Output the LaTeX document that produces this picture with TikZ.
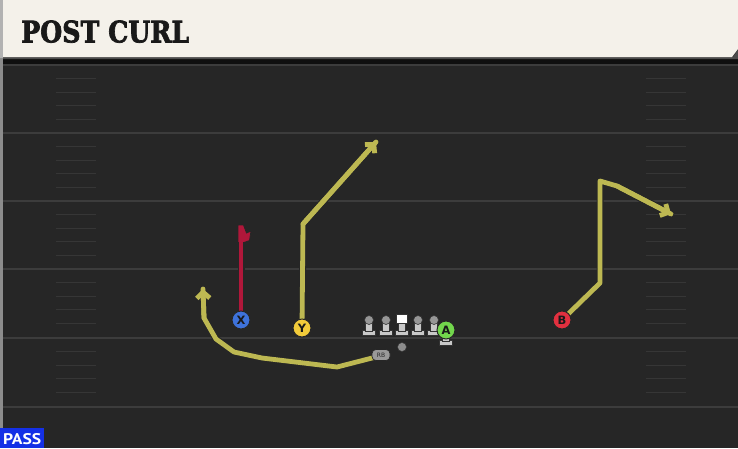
\documentclass[tikz,border=0pt]{standalone}
\usepackage{fontspec}
\setmainfont{DejaVu Sans}
\newfontfamily\titlefont[FakeBold=2.5]{DejaVu Serif}
\newfontfamily\passfont{PT Sans}
\usetikzlibrary{arrows.meta}
\definecolor{fieldbg}{HTML}{262626}
\definecolor{yardline}{HTML}{3C3C3C}
\definecolor{hashc}{HTML}{363636}
\definecolor{cream}{HTML}{F4F1EA}
\definecolor{routey}{HTML}{BDB852}
\definecolor{router}{HTML}{B0173A}
\definecolor{plblue}{HTML}{3E72DA}
\definecolor{plyellow}{HTML}{F2CB3A}
\definecolor{plgreen}{HTML}{72D64C}
\definecolor{plred}{HTML}{E2303F}
\definecolor{linem}{HTML}{C8C8C8}
\definecolor{passblue}{HTML}{1430E6}
\tikzset{
  player/.style={circle,draw=black!85,line width=1pt,minimum size=18pt,inner sep=0pt,
    font=\bfseries\fontsize{11.5}{11.5}\selectfont,text=black!90},
  routeout/.style={line width=7pt,draw=black!85,line join=round,line cap=round},
  routein/.style={line width=4.8pt,draw=routey,line join=round,line cap=round},
  redout/.style={line width=7pt,draw=black!85,line join=round,line cap=butt},
  redin/.style={line width=4.8pt,draw=router,line join=round,line cap=butt},
  barbout/.style={line width=7pt,draw=black!85,line join=miter,line cap=round},
  barbin/.style={line width=4.8pt,draw=routey,line join=miter,line cap=round},
  tipstyle/.style={-{Straight Barb[length=6pt,width=13pt]}},
  yard/.style={draw=yardline,line width=1.6pt},
  hashm/.style={draw=hashc,line width=1.2pt},
  pics/lineman/.style={code={
    \fill[linem,draw=black!80,line width=0.6pt] (-6.5,10.5) rectangle (6.5,15);
    \fill[linem,draw=black!80,line width=0.6pt] (-3.5,2.5) rectangle (3.5,11);
    \fill[linem!75!black,draw=black!80,line width=0.6pt] (0,0) circle (4.5);
  }},
  pics/centerman/.style={code={
    \fill[linem,draw=black!80,line width=0.6pt] (-6.5,10.5) rectangle (6.5,15);
    \fill[linem,draw=black!80,line width=0.6pt] (-3.5,2.5) rectangle (3.5,11);
    \fill[white,draw=black!80,line width=0.6pt] (-5.5,-6) rectangle (5.5,3);
  }}
}
\begin{document}
\begin{tikzpicture}[x=1pt,y=-1pt]
\useasboundingbox (0,0) rectangle (738,448);
% field
\fill[fieldbg] (0,0) rectangle (738,448);
\fill[black!60!fieldbg] (0,57) rectangle (738,64);
\fill[black!45] (0,0) rectangle (3,448);
% yard lines
\foreach \yy in {65,133,201,269,338,407} \draw[yard] (3,\yy) -- (738,\yy);
% hash marks
\foreach \yy in {65,133,201,269,338} {
  \foreach \k in {1,2,3,4} {
    \draw[hashm] (56,\yy+13.6*\k) -- (96,\yy+13.6*\k);
    \draw[hashm] (646,\yy+13.6*\k) -- (686,\yy+13.6*\k);
  }
}
% header
\fill[black!70] (3,57) -- (733,57) -- (738,50) -- (738,59) -- (3,59) -- cycle;
\fill[cream] (3,0) -- (738,0) -- (738,49) -- (732,57) -- (3,57) -- cycle;
\fill[black!30] (0,0) rectangle (3,58);
\node[anchor=south west,inner sep=0pt,text=black!90] (title) at (21,43)
  {\resizebox{168pt}{22pt}{\titlefont\bfseries POST CURL}};
% PASS tag
\fill[passblue] (0,428) rectangle (44,448);
\node[anchor=south west,inner sep=0pt,text=white] (pass) at (3,445)
  {\resizebox{38pt}{11pt}{\passfont\bfseries PASS}};

% offensive line
\pic at (369,320) {lineman};
\pic at (386,320) {lineman};
\pic at (402,320) {centerman};
\pic at (418,320) {lineman};
\pic at (434,320) {lineman};
\pic at (446,330) {lineman};
% ball
\node[circle,fill=black!45,draw=black!80,line width=0.5pt,minimum size=9pt,inner sep=0pt] (ball) at (402,347) {};

% route coordinates
\coordinate (y1) at (303,224);
\coordinate (yend) at (376,142);
\coordinate (b1) at (600,283);
\coordinate (b2) at (600,181);
\coordinate (b3) at (617,186);
\coordinate (bend) at (671,214);
\coordinate (r1) at (337,367);
\coordinate (r2) at (262,358);
\coordinate (r3) at (234,352);
\coordinate (r4) at (216,339);
\coordinate (r5) at (204,318);
\coordinate (rend) at (203,289);
\coordinate (xend) at (241,226);
\coordinate (rbpos) at (381,355);

% X route (red)
\draw[redout] (241,320) -- (xend);
\fill[router,draw=black!85,line width=0.8pt] (238,225) -- (243.5,225) -- (246.5,233) -- (251,231) -- (249.5,240.5) -- (244,242.5) -- (238,242.5) -- cycle;
\draw[redin] (241,320) -- (241,236);

% Y route
\draw[routeout] (302,328) -- (y1) -- (yend);
\draw[barbout,tipstyle] (y1) -- (yend);
\draw[routein] (302,328) -- (y1) -- (yend);
\draw[barbin,tipstyle] (y1) -- (yend);

% B route
\draw[routeout] (562,320) -- (b1) -- (b2) -- (b3) -- (bend);
\draw[barbout,tipstyle] (b3) -- (bend);
\draw[routein] (562,320) -- (b1) -- (b2) -- (b3) -- (bend);
\draw[barbin,tipstyle] (b3) -- (bend);

% RB route
\draw[routeout] (376,357) -- (r1) -- (r2) -- (r3) -- (r4) -- (r5) -- (rend);
\draw[barbout,tipstyle] (r5) -- (rend);
\draw[routein] (376,357) -- (r1) -- (r2) -- (r3) -- (r4) -- (r5) -- (rend);
\draw[barbin,tipstyle] (r5) -- (rend);

% players
\node[player,fill=plblue] (X) at (241,320) {X};
\node[player,fill=plyellow] (Y) at (302,328) {Y};
\node[player,fill=plgreen] (A) at (446,330) {A};
\node[player,fill=plred] (B) at (562,320) {B};
\node[draw=black!85,fill=black!40,line width=0.7pt,rounded corners=4pt,minimum width=18pt,minimum height=11pt,inner sep=0pt,
  font=\fontsize{6}{6}\selectfont,text=black!85] (RB) at (rbpos) {RB};
\end{tikzpicture}
\end{document}
